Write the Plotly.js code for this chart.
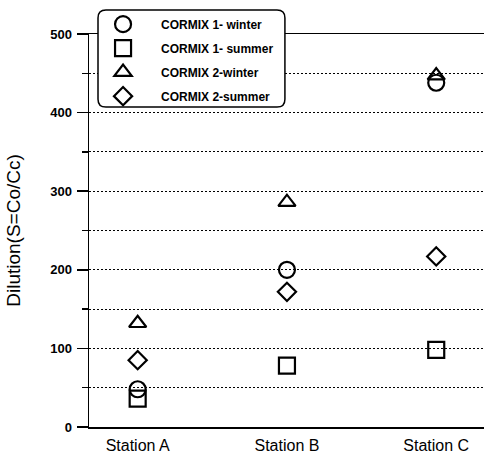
<!DOCTYPE html>
<html>
<head>
<meta charset="utf-8">
<script src="https://cdn.plot.ly/plotly-3.0.1.min.js"></script>
<style>html,body{margin:0;padding:0;background:#fff;}#chart{width:484px;height:455px;}</style>
</head>
<body>
<div id="chart"></div>
<script>
var stations = ["Station A", "Station B", "Station C"];
var cormix1Winter = [48, 200, 438];
var cormix1Summer = [36, 78, 98];
var cormix2Winter = [132, 286, 447];
var cormix2Summer = [85, 172, 217];
var seriesNames = ["CORMIX 1- winter", "CORMIX 1- summer", "CORMIX 2-winter", "CORMIX 2-summer"];
var yTickVals = [0, 100, 200, 300, 400, 500];

var seriesValues = [cormix1Winter, cormix1Summer, cormix2Winter, cormix2Summer];
var symbols = ["circle-open", "square-open", "triangle-up-open", "diamond-open"];
var sizes = [16, 16, 15, 14];

var traces = seriesValues.map(function (vals, i) {
  return {
    type: "scatter",
    mode: "markers",
    x: stations,
    y: vals,
    name: seriesNames[i],
    legendgroup: "g" + i,
    marker: {symbol: symbols[i], size: sizes[i], color: "#000", line: {color: "#000", width: 2.2}},
    hoverinfo: "x+y+name"
  };
});

// rounded legend box (paper coords)
var x0 = 0.0228, x1 = 0.496, y0 = 0.814, y1 = 1.061, rx = 0.02, ry = 0.02;
var boxPath = "M " + (x0 + rx) + " " + y1 +
  " L " + (x1 - rx) + " " + y1 + " Q " + x1 + " " + y1 + " " + x1 + " " + (y1 - ry) +
  " L " + x1 + " " + (y0 + ry) + " Q " + x1 + " " + y0 + " " + (x1 - rx) + " " + y0 +
  " L " + (x0 + rx) + " " + y0 + " Q " + x0 + " " + y0 + " " + x0 + " " + (y0 + ry) +
  " L " + x0 + " " + (y1 - ry) + " Q " + x0 + " " + y1 + " " + (x0 + rx) + " " + y1 + " Z";

var layout = {
  width: 484, height: 455,
  margin: {l: 89, r: 0, t: 34, b: 28},
  paper_bgcolor: "#fff", plot_bgcolor: "#fff",
  font: {family: "Liberation Sans, Arial, sans-serif", color: "#000"},
  showlegend: true,
  legend: {
    x: -0.01, xanchor: "left", y: 1.062, yanchor: "top",
    bgcolor: "rgba(0,0,0,0)", borderwidth: 0,
    font: {family: "Liberation Sans, Arial, sans-serif", size: 12, weight: "bold", color: "#000"},
    itemwidth: 66, tracegroupgap: 5, traceorder: "grouped"
  },
  xaxis: {
    type: "category", range: [-0.326, 2.32],
    showline: true, linecolor: "#000", linewidth: 1.5, mirror: true,
    showgrid: false, zeroline: false, ticks: "", ticklabelstandoff: 3,
    tickfont: {family: "Liberation Sans, Arial, sans-serif", size: 16, color: "#000"}
  },
  yaxis: {
    range: [0, 500], tickvals: yTickVals,
    showline: true, linecolor: "#000", linewidth: 1.5,
    ticks: "outside", ticklen: 11, tickwidth: 1.5, tickcolor: "#000",
    showgrid: true, gridcolor: "#000", gridwidth: 1, griddash: "2px,2px",
    zeroline: false, ticklabelstandoff: 2,
    minor: {dtick: 50, ticks: "outside", ticklen: 6, tickwidth: 1.5, tickcolor: "#000", showgrid: true, gridcolor: "#000", gridwidth: 1, griddash: "2px,2px"},
    tickfont: {family: "Liberation Sans Narrow, Liberation Sans, Arial, sans-serif", size: 13, weight: "bold", color: "#000"},
    title: {text: "Dilution(S=Co/Cc)", font: {family: "Liberation Sans, Arial, sans-serif", size: 19, color: "#000"}, standoff: 24}
  },
  shapes: [{type: "path", xref: "paper", yref: "paper", path: boxPath, layer: "above", fillcolor: "#fff", line: {color: "#000", width: 1.5}}]
};

Plotly.newPlot("chart", traces, layout, {displayModeBar: false, staticPlot: true});
</script>
</body>
</html>
